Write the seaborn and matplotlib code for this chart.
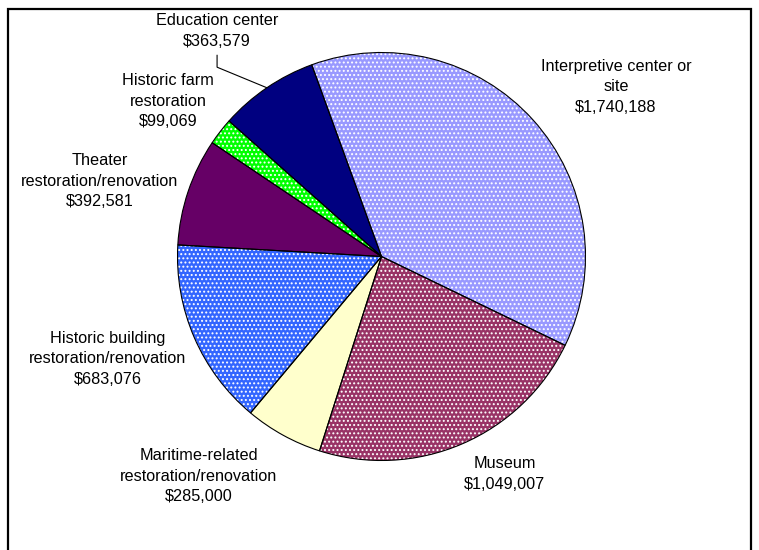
import matplotlib
matplotlib.use('Agg')
import matplotlib.pyplot as plt
import numpy as np
import seaborn as sns
from matplotlib.patches import Rectangle

# project types, clockwise from the top
categories = [
    'Interpretive center or\nsite',
    'Museum',
    'Maritime-related\nrestoration/renovation',
    'Historic building\nrestoration/renovation',
    'Theater\nrestoration/renovation',
    'Historic farm\nrestoration',
    'Education center',
]
amounts = [1740188, 1049007, 285000, 683076, 392581, 99069, 363579]

colors = ['#9999FF', '#993366', '#FFFFCC', '#3366FF', '#660066', '#00FF00', '#000080']
hatches = ['....', '....', '', '....', '', '....', '']

# label centres in pie units (radius = 1)
label_x = [1.150, 0.605, -0.895, -1.341, -1.380, -1.047, -0.806]
label_y = [0.831, -1.066, -1.076, -0.502, 0.370, 0.762, 1.105]

sns.set_theme(style='white')
plt.rcParams['font.family'] = ['Liberation Sans', 'DejaVu Sans']
plt.rcParams['hatch.linewidth'] = 0.9

fig = plt.figure(figsize=(7.59, 5.50), dpi=100)
ax = fig.add_axes([0, 0, 1, 1])

# filled wedges with white dot pattern
wedges, _ = ax.pie(amounts, colors=colors, startangle=110, counterclock=False,
                   wedgeprops=dict(edgecolor='white', linewidth=0))
for w, h in zip(wedges, hatches):
    w.set_hatch(h)

# black outlines on top
ax.pie(amounts, startangle=110, counterclock=False,
       wedgeprops=dict(fill=False, edgecolor='black', linewidth=0.8))

for name, val, x, y in zip(categories, amounts, label_x, label_y):
    ax.text(x, y, f'{name}\n${val:,}', ha='center', va='center',
            fontsize=11.7, linespacing=1.45, color='black')

# leader line for the education label
edu = wedges[-1]
mid = np.deg2rad((edu.theta1 + edu.theta2) / 2)
ex, ey = label_x[-1], label_y[-1]
ax.plot([ex, ex, np.cos(mid)], [ey - 0.118, ey - 0.177, np.sin(mid)],
        color='black', linewidth=0.8)

ax.set_xlim(-381.5 / 204, (759 - 381.5) / 204)
ax.set_ylim(-(550 - 256.5) / 204, 256.5 / 204)
ax.set_aspect('auto')
ax.axis('off')

fig.add_artist(Rectangle((8 / 759, -0.1), (751 - 8) / 759, 1 - 8.5 / 550 + 0.1,
                         transform=fig.transFigure, fill=False,
                         edgecolor='black', linewidth=1.6, clip_on=False))

fig.savefig('out.png', dpi=100)
plt.close(fig)
